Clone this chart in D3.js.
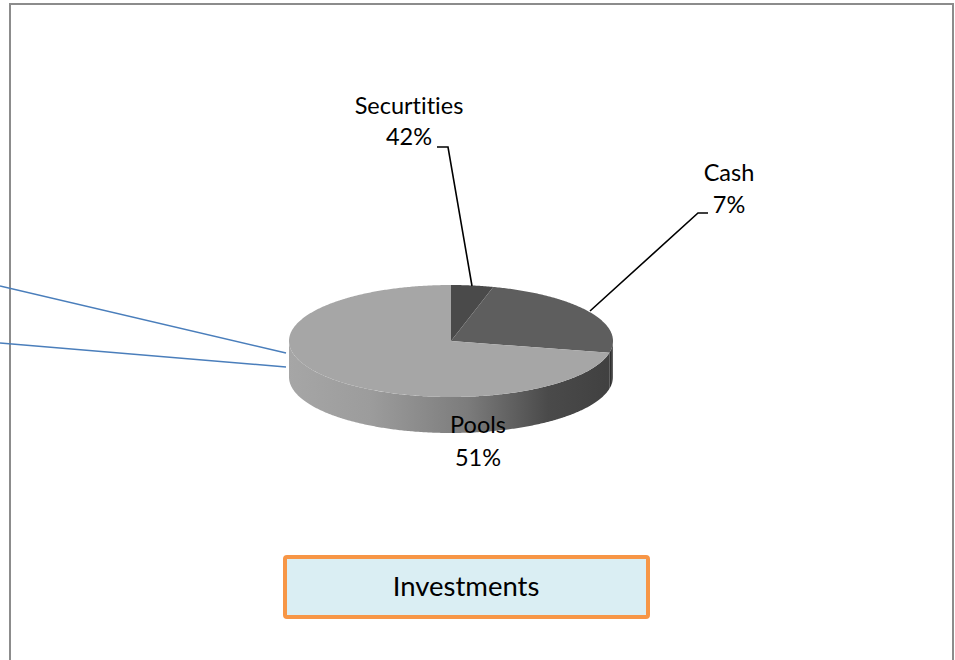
<!DOCTYPE html>
<html>
<head>
<meta charset="utf-8">
<script src="https://cdn.jsdelivr.net/npm/d3@7/dist/d3.min.js"></script>
<style>
  html, body { margin: 0; padding: 0; background: #fff; }
  svg { display: block; }
  text { font-family: Lato, "Open Sans", sans-serif; fill: #000; font-variant-ligatures: none; font-feature-settings: "liga" 0, "clig" 0; }
</style>
</head>
<body>
<svg id="chart" width="955" height="660"></svg>
<script>
// ---- data ----
const categories = ["Securtities", "Cash", "Pools"];
const labelPercents = [42, 7, 51];          // percentages printed in the labels
const sliceShares = [4.2, 24.2, 71.6];      // slice sizes as drawn in the picture
const sliceColors = ["#4a4a4a", "#5e5e5e", "#a6a6a6"];
const chartTitle = "Investments";

// ---- layout ----
const svg = d3.select("#chart");
const W = 955, H = 660;
const cx = 451, cy = 341, rx = 162, ry = 56, depth = 36;

// outer chart border
svg.append("path")
  .attr("d", `M10,${H} L10,4 L953,4 L953,${H}`)
  .attr("fill", "none").attr("stroke", "#8c8c8c").attr("stroke-width", 2);

// stray blue connector lines
const blueLines = [[[0, 286], [286, 353]], [[0, 343], [286, 367]]];
svg.selectAll("line.blue").data(blueLines).join("line")
  .attr("class", "blue")
  .attr("x1", d => d[0][0]).attr("y1", d => d[0][1])
  .attr("x2", d => d[1][0]).attr("y2", d => d[1][1])
  .attr("stroke", "#4a7ebb").attr("stroke-width", 1.6);

const pie = d3.pie().sort(null).value(d => d.share).startAngle(0).endAngle(2 * Math.PI);
const arcs = pie(categories.map((c, i) => ({ name: c, share: sliceShares[i], pct: labelPercents[i] })));
const color = d3.scaleOrdinal().domain(categories).range(sliceColors);

const pt = (a, dy = 0) => [cx + rx * Math.sin(a), cy - ry * Math.cos(a) + dy];
const line = d3.line();

function arcPoints(a0, a1, dy) {
  const n = Math.max(2, Math.ceil((a1 - a0) / 0.01));
  return d3.range(n + 1).map(i => pt(a0 + (a1 - a0) * i / n, dy));
}

// gradients
const defs = svg.append("defs");
const g1 = defs.append("linearGradient").attr("id", "sideLight")
  .attr("gradientUnits", "userSpaceOnUse")
  .attr("x1", cx - rx).attr("x2", cx + rx).attr("y1", 0).attr("y2", 0);
g1.append("stop").attr("offset", "0").attr("stop-color", "#a6a6a6");
g1.append("stop").attr("offset", "0.25").attr("stop-color", "#9c9c9c");
g1.append("stop").attr("offset", "0.55").attr("stop-color", "#7c7c7c");
g1.append("stop").attr("offset", "0.8").attr("stop-color", "#4a4a4a");
g1.append("stop").attr("offset", "1").attr("stop-color", "#404040");
const g2 = defs.append("linearGradient").attr("id", "sideDark")
  .attr("gradientUnits", "userSpaceOnUse")
  .attr("x1", cx + rx - 6).attr("x2", cx + rx).attr("y1", 0).attr("y2", 0);
g2.append("stop").attr("offset", "0").attr("stop-color", "#3c3c3c");
g2.append("stop").attr("offset", "0.6").attr("stop-color", "#2e2e2e");
g2.append("stop").attr("offset", "1").attr("stop-color", "#6a6a6a");

// side walls (front-facing part: angles between PI/2 and 3PI/2)
const sides = svg.append("g");
arcs.forEach(d => {
  const a0 = Math.max(d.startAngle, Math.PI / 2);
  const a1 = Math.min(d.endAngle, 3 * Math.PI / 2);
  if (a1 <= a0) return;
  const top = arcPoints(a0, a1, 0);
  const bot = arcPoints(a0, a1, depth).reverse();
  sides.append("path")
    .attr("d", line(top.concat(bot)) + "Z")
    .attr("fill", d.index === 2 ? "url(#sideLight)" : "url(#sideDark)");
});

// top faces
svg.append("g").selectAll("path").data(arcs).join("path")
  .attr("d", d => line([[cx, cy]].concat(arcPoints(d.startAngle, d.endAngle, 0))) + "Z")
  .attr("fill", d => color(d.data.name));

// leader lines
const leaders = [
  [[437, 147], [448, 147], [472, 286]],
  [[708, 213], [698, 213], [590, 311]]
];
svg.selectAll("path.leader").data(leaders).join("path")
  .attr("class", "leader")
  .attr("d", d => line(d))
  .attr("fill", "none").attr("stroke", "#000").attr("stroke-width", 1.6);

// data labels
const labelPos = [[409, 114, 145], [729, 181, 213], [478, 433, 466]];
const labels = svg.append("g").selectAll("g").data(arcs).join("g");
labels.append("text")
  .attr("x", (d, i) => labelPos[i][0]).attr("y", (d, i) => labelPos[i][1])
  .attr("text-anchor", "middle").attr("font-size", 23.5)
  .text(d => d.data.name);
labels.append("text")
  .attr("x", (d, i) => labelPos[i][0]).attr("y", (d, i) => labelPos[i][2])
  .attr("text-anchor", "middle").attr("font-size", 23.5)
  .text(d => d.data.pct + "%");

// title box
svg.append("rect")
  .attr("x", 285).attr("y", 557).attr("width", 363).attr("height", 60)
  .attr("rx", 2)
  .attr("fill", "#daeef3").attr("stroke", "#f79646").attr("stroke-width", 4);
svg.append("text")
  .attr("x", 466).attr("y", 596)
  .attr("text-anchor", "middle").attr("font-size", 27.5)
  .text(chartTitle);
</script>
</body>
</html>
